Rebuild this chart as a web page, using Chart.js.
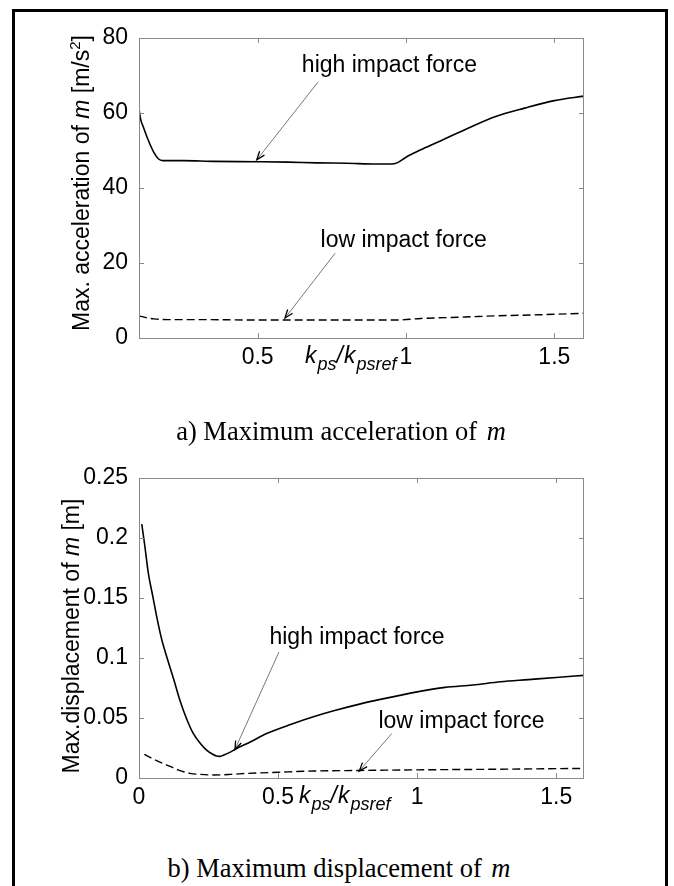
<!DOCTYPE html>
<html lang="en">
<head>
<meta charset="UTF-8">
<title>Maximum acceleration and displacement of m</title>
<script src="https://cdn.jsdelivr.net/npm/chart.js"></script>
<style>
  body { margin: 0; background: #fff; }
  #frame { position: absolute; left: 12px; top: 9px; width: 650px; height: 900px; border: 3px solid #000; }
  canvas { position: absolute; left: 0; }
  .caption { position: absolute; left: 0; width: 674px; text-align: center; white-space: nowrap;
             font-family: "Liberation Serif", "Times New Roman", serif; font-size: 26.5px; line-height: 26px; }
  .caption i { font-family: "Liberation Serif", serif; font-style: italic; padding-left: 3px; }
</style>
</head>
<body>
<div id="frame"></div>
<canvas id="accChart" width="674" height="400" style="top:0px"></canvas>
<canvas id="dispChart" width="674" height="400" style="top:440px"></canvas>
<div class="caption" style="top:418px; left:4px">a) Maximum acceleration of <i>m</i></div>
<div class="caption" style="top:855px; left:2px">b) Maximum displacement of <i>m</i></div>

<script>
// --- a) maximum acceleration ---
const accHighX = [0.1, 0.105, 0.115, 0.13, 0.15, 0.165, 0.18, 0.25, 0.35, 0.5, 0.6, 0.7, 0.8, 0.9, 0.95, 0.97, 1.0, 1.05, 1.1, 1.2, 1.3, 1.4, 1.5, 1.6];
const accHighY = [61.2, 58.5, 56.2, 53.0, 49.5, 47.8, 47.3, 47.3, 47.1, 47.0, 46.9, 46.7, 46.6, 46.4, 46.4, 46.7, 48.2, 50.2, 52.0, 55.6, 59.0, 61.3, 63.3, 64.5];
const accLowX = [0.1, 0.12, 0.15, 0.2, 0.3, 0.5, 0.7, 0.9, 0.97, 1.05, 1.2, 1.3, 1.45, 1.6];
const accLowY = [5.9, 5.5, 5.1, 4.9, 4.9, 4.8, 4.8, 4.8, 4.8, 5.2, 5.6, 5.9, 6.2, 6.6];
const accXTicks = [0.5, 1, 1.5];
const accYTicks = [0, 20, 40, 60, 80];

// --- b) maximum displacement ---
const dispHighX = [0.01, 0.02, 0.034, 0.05, 0.064, 0.08, 0.1, 0.125, 0.147, 0.17, 0.195, 0.22, 0.243, 0.265, 0.279, 0.29, 0.303, 0.33, 0.351, 0.4, 0.459, 0.55, 0.627, 0.7, 0.8, 0.867, 1.0, 1.1, 1.2, 1.3, 1.4, 1.5, 1.6];
const dispHighY = [0.2115, 0.195, 0.170, 0.151, 0.134, 0.117, 0.1008, 0.082, 0.0648, 0.050, 0.0371, 0.029, 0.0233, 0.0198, 0.0183, 0.0180, 0.019, 0.0218, 0.0246, 0.030, 0.0371, 0.045, 0.051, 0.056, 0.062, 0.0655, 0.0718, 0.0755, 0.0775, 0.0802, 0.082, 0.0838, 0.0855];
const dispLowX = [0.019, 0.05, 0.1, 0.14, 0.183, 0.22, 0.267, 0.33, 0.387, 0.5, 0.627, 0.795, 1.0, 1.286, 1.6];
const dispLowY = [0.0197, 0.0160, 0.0108, 0.0068, 0.0039, 0.0030, 0.0025, 0.0030, 0.0038, 0.0048, 0.0058, 0.0063, 0.0068, 0.0073, 0.0080];
const dispXTicks = [0, 0.5, 1, 1.5];
const dispYTicks = [0, 0.05, 0.1, 0.15, 0.2, 0.25];

const SANS = '"Liberation Sans", Arial, sans-serif';

function pts(xs, ys) {
    return xs.map((x, i) => ({ x: x, y: ys[i] }));
}

// draws MATLAB-like box, inward ticks, axis titles and arrows
const matlabBox = {
    id: 'matlabBox',
    afterDatasetsDraw(chart, args, opts) {
        const ctx = chart.ctx;
        const a = chart.chartArea;
        const xs = chart.scales.x, ys = chart.scales.y;
        ctx.save();
        ctx.strokeStyle = '#8a8a8a';
        ctx.lineWidth = 1;
        ctx.strokeRect(a.left + 0.5, a.top + 0.5, a.right - a.left - 1, a.bottom - a.top);
        ctx.beginPath();
        opts.xTicks.forEach(v => {
            const px = Math.round(xs.getPixelForValue(v)) + 0.5;
            ctx.moveTo(px, a.bottom); ctx.lineTo(px, a.bottom - 5);
            ctx.moveTo(px, a.top); ctx.lineTo(px, a.top + 5);
        });
        opts.yTicks.forEach(v => {
            const py = Math.round(ys.getPixelForValue(v)) + 0.5;
            ctx.moveTo(a.left, py); ctx.lineTo(a.left + 5, py);
            ctx.moveTo(a.right, py); ctx.lineTo(a.right - 5, py);
        });
        ctx.stroke();

        // y axis title
        ctx.fillStyle = '#000';
        ctx.textBaseline = 'alphabetic';
        ctx.textAlign = 'left';
        const fontOf = p => (p.it ? 'italic ' : '') + (p.sup ? '15px ' : '23px ') + SANS;
        let total = 0;
        opts.yTitle.forEach(p => { ctx.font = fontOf(p); total += ctx.measureText(p.t).width; });
        ctx.save();
        ctx.translate(opts.yTitleX, opts.yTitleCenter);
        ctx.rotate(-Math.PI / 2);
        let cx = -total / 2;
        opts.yTitle.forEach(p => {
            ctx.font = fontOf(p);
            ctx.fillText(p.t, cx, p.sup ? -9 : 0);
            cx += ctx.measureText(p.t).width;
        });
        ctx.restore();

        // x axis title k_ps / k_psref
        let tx = opts.xTitleLeft;
        const base = a.bottom + 25;
        [['k', 0], ['ps', 1], ['/', 0], ['k', 0], ['psref', 1]].forEach(([t, sub]) => {
            ctx.font = 'italic ' + (sub ? '18px ' : '23px ') + SANS;
            ctx.fillText(t, tx, sub ? base + 7 : base);
            tx += ctx.measureText(t).width + (sub ? 0 : 1);
        });

        // annotations with arrows
        opts.notes.forEach(n => {
            ctx.font = '23px ' + SANS;
            ctx.fillStyle = '#000';
            ctx.fillText(n.text, xs.getPixelForValue(n.tx), ys.getPixelForValue(n.ty));
            const x0 = xs.getPixelForValue(n.x0), y0 = ys.getPixelForValue(n.y0);
            const x1 = xs.getPixelForValue(n.x1), y1 = ys.getPixelForValue(n.y1);
            ctx.strokeStyle = '#555';
            ctx.lineWidth = 0.8;
            ctx.beginPath(); ctx.moveTo(x0, y0); ctx.lineTo(x1, y1); ctx.stroke();
            const ang = Math.atan2(y1 - y0, x1 - x0);
            ctx.strokeStyle = '#000';
            ctx.lineWidth = 1.3;
            ctx.beginPath();
            ctx.moveTo(x1 - 9 * Math.cos(ang - 0.35), y1 - 9 * Math.sin(ang - 0.35));
            ctx.lineTo(x1, y1);
            ctx.lineTo(x1 - 9 * Math.cos(ang + 0.35), y1 - 9 * Math.sin(ang + 0.35));
            ctx.stroke();
        });
        ctx.restore();
    }
};

function makeChart(id, c) {
    const tickFont = { family: SANS, size: 23 };
    return new Chart(document.getElementById(id), {
        type: 'line',
        data: {
            datasets: [
                { data: pts(c.highX, c.highY), borderColor: '#000', borderWidth: 1.6, pointRadius: 0, cubicInterpolationMode: 'monotone', fill: false },
                { data: pts(c.lowX, c.lowY), borderColor: '#000', borderWidth: 1.4, borderDash: [8, 4], pointRadius: 0, cubicInterpolationMode: 'monotone', fill: false }
            ]
        },
        options: {
            responsive: false,
            animation: false,
            layout: { padding: { left: 0, right: 90, top: 38, bottom: 0 } },
            plugins: {
                legend: { display: false },
                tooltip: { enabled: false },
                matlabBox: { xTicks: c.xTicks, yTicks: c.yTicks, yTitle: c.yTitle, yTitleX: c.yTitleX, yTitleCenter: c.yTitleCenter, xTitleLeft: c.xTitleLeft, notes: c.notes }
            },
            scales: {
                x: {
                    type: 'linear', min: c.xMin, max: c.xMax,
                    grid: { display: false }, border: { display: false },
                    afterBuildTicks: s => { s.ticks = c.xTicks.map(v => ({ value: v })); },
                    afterFit: s => { s.height = 62; },
                    ticks: { autoSkip: false, maxRotation: 0, padding: -2, color: '#000', font: tickFont, callback: v => String(v) }
                },
                y: {
                    type: 'linear', min: c.yMin, max: c.yMax,
                    grid: { display: false }, border: { display: false },
                    afterBuildTicks: s => { s.ticks = c.yTicks.map(v => ({ value: v })); },
                    afterFit: s => { s.width = 139; },
                    ticks: { autoSkip: false, padding: 3, color: '#000', font: tickFont, callback: v => String(v) }
                }
            }
        },
        plugins: [matlabBox]
    });
}

makeChart('accChart', {
    highX: accHighX, highY: accHighY, lowX: accLowX, lowY: accLowY,
    xMin: 0.1, xMax: 1.6, yMin: 0, yMax: 80, xTicks: accXTicks, yTicks: accYTicks,
    yTitle: [{ t: 'Max. acceleration of ' }, { t: 'm', it: true }, { t: ' [m/s' }, { t: '2', sup: true }, { t: ']' }],
    yTitleX: 89, yTitleCenter: 183, xTitleLeft: 305,
    notes: [
        { text: 'high impact force', tx: 0.649, ty: 70.9, x0: 0.704, y0: 68.3, x1: 0.497, y1: 47.5 },
        { text: 'low impact force', tx: 0.712, ty: 24.3, x0: 0.761, y0: 22.6, x1: 0.592, y1: 5.3 }
    ]
});

makeChart('dispChart', {
    highX: dispHighX, highY: dispHighY, lowX: dispLowX, lowY: dispLowY,
    xMin: 0, xMax: 1.6, yMin: 0, yMax: 0.25, xTicks: dispXTicks, yTicks: dispYTicks,
    yTitle: [{ t: 'Max.displacement of ' }, { t: 'm', it: true }, { t: ' [m]' }],
    yTitleX: 79, yTitleCenter: 196, xTitleLeft: 299,
    notes: [
        { text: 'high impact force', tx: 0.469, ty: 0.1119, x0: 0.503, y0: 0.1049, x1: 0.345, y1: 0.0238 },
        { text: 'low impact force', tx: 0.861, ty: 0.0413, x0: 0.909, y0: 0.0371, x1: 0.792, y1: 0.0058 }
    ]
});
</script>
</body>
</html>
